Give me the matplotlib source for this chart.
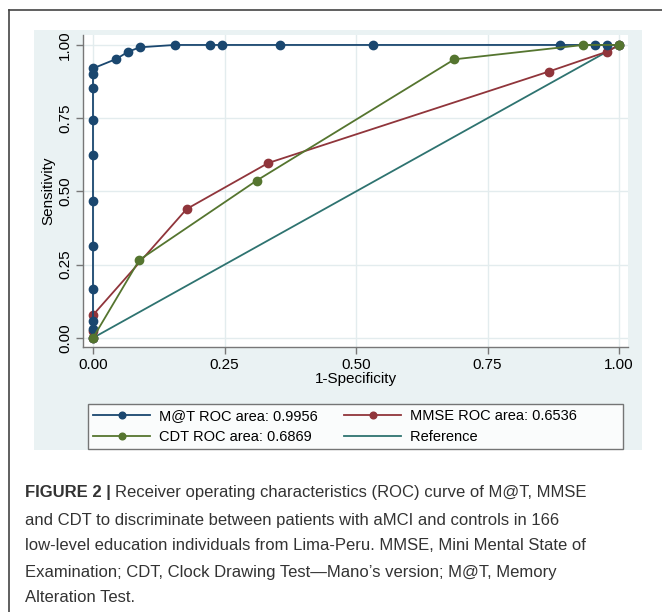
import matplotlib
matplotlib.use("Agg")
import matplotlib.pyplot as plt
from matplotlib.patches import Rectangle
from matplotlib.lines import Line2D

plt.rcParams["font.family"] = ["Liberation Sans", "DejaVu Sans"]

# ROC points (x = 1-specificity, y = sensitivity)
mat_x = [0, 0, 0, 0, 0, 0, 0, 0, 0, 0, 0, 0.044, 0.067, 0.089, 0.155, 0.222, 0.245,
         0.356, 0.532, 0.887, 0.954, 0.977, 1.0]
mat_y = [0, 0.03, 0.058, 0.168, 0.315, 0.466, 0.623, 0.744, 0.852, 0.901, 0.920, 0.952,
         0.977, 0.992, 1.0, 1.0, 1.0, 1.0, 1.0, 1.0, 1.0, 1.0, 1.0]
mmse_x = [0, 0, 0, 0.178, 0.333, 0.866, 0.977, 1.0]
mmse_y = [0, 0.025, 0.078, 0.440, 0.597, 0.909, 0.977, 1.0]
cdt_x = [0, 0.088, 0.311, 0.687, 0.932, 1.0]
cdt_y = [0, 0.266, 0.537, 0.951, 1.0, 1.0]
ref_x = [0, 1]
ref_y = [0, 1]

labels = ["M@T ROC area: 0.9956", "MMSE ROC area: 0.6536",
          "CDT ROC area: 0.6869", "Reference"]
ticks = [0, 0.25, 0.5, 0.75, 1.0]
tick_labels = ["0.00", "0.25", "0.50", "0.75", "1.00"]

caption = [
    "and CDT to discriminate between patients with aMCI and controls in 166",
    "low-level education individuals from Lima-Peru. MMSE, Mini Mental State of",
    "Examination; CDT, Clock Drawing Test\u2014Mano\u2019s version; M@T, Memory",
    "Alteration Test.",
]

NAVY = "#1a476f"
MAROON = "#90353b"
GREEN = "#55752f"
TEAL = "#2e7370"
BG = "#eaf2f3"

W, H = 662, 612
fig = plt.figure(figsize=(W / 100, H / 100), dpi=100)


def fx(px):
    return px / W


def fy(py):
    return 1 - py / H


# outer frame (top and left edges visible)
fig.add_artist(Line2D([fx(9), 1], [fy(10), fy(10)], color="#444444", lw=1.2))
fig.add_artist(Line2D([fx(9), fx(9)], [fy(10), 0], color="#444444", lw=1.2))

# stata graph region
fig.add_artist(Rectangle((fx(34), fy(450)), fx(642) - fx(34), fy(30) - fy(450),
                         facecolor=BG, edgecolor="none", zorder=0))

ax = fig.add_axes([fx(83), fy(347), fx(628) - fx(83), fy(35) - fy(347)])
ax.set_facecolor("white")
ax.set_xlim(-0.019, 1.017)
ax.set_ylim(-0.031, 1.034)

mk = dict(marker="o", markersize=6, lw=1.3)
ax.plot(ref_x, ref_y, color=TEAL, lw=1.3, zorder=2)
ax.plot(mmse_x, mmse_y, color=MAROON, zorder=3, **mk)
ax.plot(cdt_x, cdt_y, color=GREEN, zorder=4, **mk)
ax.plot(mat_x, mat_y, color=NAVY, zorder=3, **mk)

ax.set_xticks(ticks)
ax.set_xticklabels(tick_labels)
ax.set_yticks(ticks)
ax.set_yticklabels(tick_labels, rotation=90, va="center")
ax.grid(True, color="#e3ecee", lw=1.0, zorder=0)
ax.set_axisbelow(True)
for s in ["top", "right"]:
    ax.spines[s].set_visible(False)
for s in ["left", "bottom"]:
    ax.spines[s].set_color("#777777")
    ax.spines[s].set_linewidth(1.0)
ax.tick_params(colors="#777777", labelcolor="black", labelsize=11, length=5, width=1.0,
               pad=3)
ax.set_xlabel("1-Specificity", fontsize=11, labelpad=0)
ax.set_ylabel("Sensitivity", fontsize=11, labelpad=2)

h_mat = Line2D([], [], color=NAVY, **mk)
h_mmse = Line2D([], [], color=MAROON, **mk)
h_cdt = Line2D([], [], color=GREEN, **mk)
h_ref = Line2D([], [], color=TEAL, lw=1.3)
# legend fills columns first: order so rows read M@T/MMSE, CDT/Reference;
# trailing spaces on the right column keep the empty space at the box's right end
pad = " " * 10
leg = fig.legend([h_mat, h_cdt, h_mmse, h_ref],
                 [labels[0], labels[2], labels[1] + pad, labels[3] + pad],
                 ncol=2, loc="lower left",
                 bbox_to_anchor=(fx(88), fy(449), fx(623) - fx(88), fy(398) - fy(449)),
                 mode="expand", fontsize=10.5, frameon=True, fancybox=False,
                 edgecolor="#555555", handlelength=3.9, handletextpad=0.6,
                 borderaxespad=0, labelspacing=0.45, columnspacing=1.0,
                 markerscale=0.8, borderpad=0.35)
leg.get_frame().set_linewidth(1.0)

# caption
cap_size = 12.0
cap_col = "#333333"
t0 = fig.text(fx(25), fy(493), "FIGURE 2 |", fontsize=cap_size, fontweight="bold",
              color=cap_col, va="center", ha="left")
fig.canvas.draw()
bb = t0.get_window_extent()
fig.text(bb.x1 / W + fx(4), fy(493),
         "Receiver operating characteristics (ROC) curve of M@T, MMSE",
         fontsize=cap_size, color=cap_col, va="center", ha="left")
for i, line in enumerate(caption):
    fig.text(fx(25), fy(520 + 26 * i), line, fontsize=cap_size, color=cap_col,
             va="center", ha="left")

fig.savefig("out.png", dpi=100)
